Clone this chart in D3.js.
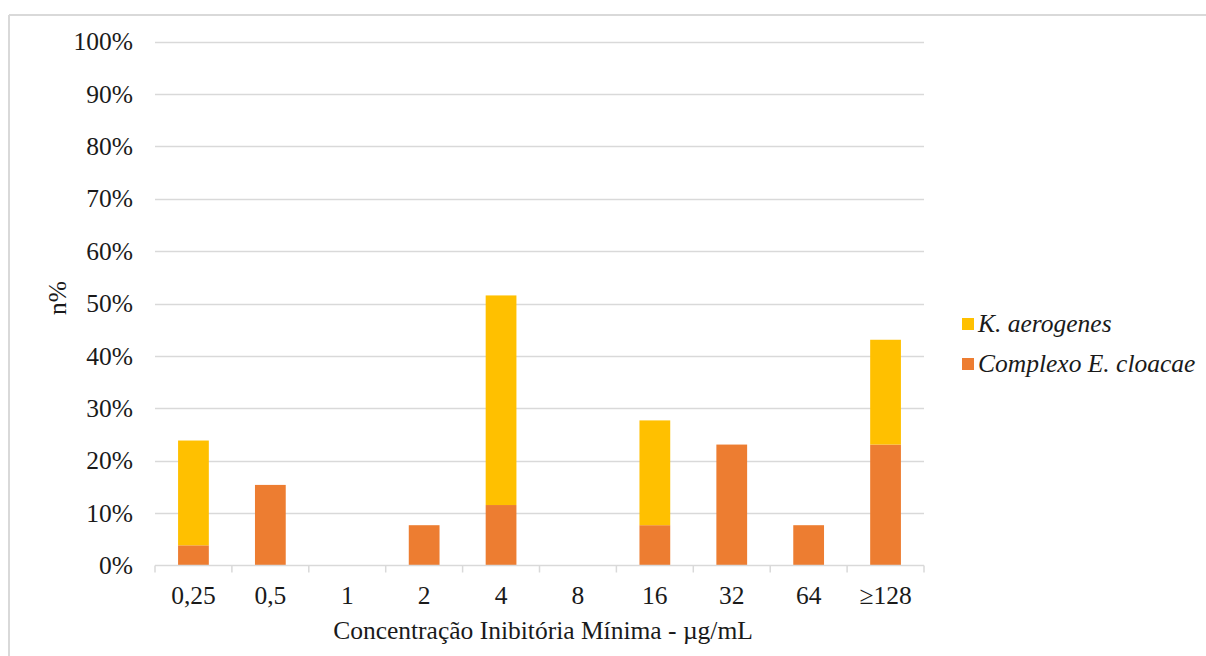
<!DOCTYPE html>
<html>
<head>
<meta charset="utf-8">
<script src="https://cdn.jsdelivr.net/npm/d3@7/dist/d3.min.js"></script>
<style>
  html, body { margin: 0; padding: 0; background: #fff; }
  svg { display: block; }
</style>
</head>
<body>
<svg id="chart" width="1206" height="656"></svg>
<script>
const categories = ["0,25", "0,5", "1", "2", "4", "8", "16", "32", "64", "≥128"];
const seriesNames = ["Complexo E. cloacae", "K. aerogenes"];
const cloacae = [3.85, 15.38, 0, 7.69, 11.54, 0, 7.69, 23.08, 7.69, 23.08];
const aerogenes = [20, 0, 0, 0, 40, 0, 20, 0, 0, 20];
const yTicks = [0, 10, 20, 30, 40, 50, 60, 70, 80, 90, 100];
const colors = { "Complexo E. cloacae": "#ED7D31", "K. aerogenes": "#FFC000" };

const FONT = "'Liberation Serif', 'Times New Roman', serif";
const FS = 25.5;
const TXT = "#1a1a1a";

const svg = d3.select("#chart").attr("font-family", FONT);

// outer frame (top & left visible)
svg.append("line").attr("x1", 9).attr("x2", 1206).attr("y1", 15).attr("y2", 15)
  .attr("stroke", "#d9d9d9").attr("stroke-width", 2);
svg.append("line").attr("x1", 9).attr("x2", 9).attr("y1", 15).attr("y2", 656)
  .attr("stroke", "#d9d9d9").attr("stroke-width", 2);

const pLeft = 155, pRight = 924, pTop = 41.5, pBottom = 565.5;
const x = d3.scaleBand().domain(categories).range([pLeft, pRight]).paddingInner(0.6).paddingOuter(0.3);
const y = d3.scaleLinear().domain([0, 100]).range([pBottom, pTop]);

// gridlines
svg.append("g").selectAll("line").data(yTicks.filter(d => d > 0)).join("line")
  .attr("x1", pLeft).attr("x2", pRight)
  .attr("y1", d => Math.round(y(d)) + 0.5).attr("y2", d => Math.round(y(d)) + 0.5)
  .attr("stroke", "#d9d9d9").attr("stroke-width", 1.5);

// stacked data
const rows = categories.map((c, i) => ({ cat: c, "Complexo E. cloacae": cloacae[i], "K. aerogenes": aerogenes[i] }));
const stack = d3.stack().keys(seriesNames)(rows);

svg.append("g").selectAll("g").data(stack).join("g")
  .attr("fill", d => colors[d.key])
  .selectAll("rect").data(d => d).join("rect")
  .attr("x", d => x(d.data.cat))
  .attr("width", x.bandwidth())
  .attr("y", d => y(d[1]))
  .attr("height", d => y(d[0]) - y(d[1]));

// x axis
const xAxis = svg.append("g").attr("transform", `translate(0,${pBottom})`);
xAxis.append("line").attr("x1", pLeft).attr("x2", pRight).attr("y1", 0).attr("y2", 0)
  .attr("stroke", "#d9d9d9").attr("stroke-width", 1.5);
const step = (pRight - pLeft) / categories.length;
xAxis.selectAll("line.tick").data(d3.range(categories.length + 1)).join("line")
  .attr("class", "tick")
  .attr("x1", i => pLeft + i * step).attr("x2", i => pLeft + i * step)
  .attr("y1", 0).attr("y2", 7)
  .attr("stroke", "#d9d9d9").attr("stroke-width", 1.5);
xAxis.selectAll("text").data(categories).join("text")
  .attr("x", d => x(d) + x.bandwidth() / 2)
  .attr("y", 38)
  .attr("text-anchor", "middle")
  .attr("font-family", FONT).attr("font-size", FS).attr("fill", TXT)
  .text(d => d);

// y axis labels
const yAxis = d3.axisLeft(y).tickValues(yTicks).tickFormat(d => d + "%").tickSize(0).tickPadding(22);
const yg = svg.append("g").attr("transform", `translate(${pLeft},0)`).call(yAxis);
yg.attr("font-family", FONT).attr("font-size", FS);
yg.select(".domain").remove();
yg.selectAll("text").attr("font-family", FONT).attr("font-size", FS).attr("fill", TXT);

// axis titles
svg.append("text").attr("x", 543).attr("y", 639).attr("text-anchor", "middle")
  .attr("font-family", FONT).attr("font-size", FS).attr("fill", TXT)
  .text("Concentração Inibitória Mínima - µg/mL");
svg.append("text").attr("transform", "translate(66,298) rotate(-90)")
  .attr("text-anchor", "middle")
  .attr("font-family", FONT).attr("font-size", FS).attr("fill", TXT)
  .text("n%");

// legend
const legendItems = ["K. aerogenes", "Complexo E. cloacae"];
const lg = svg.append("g").selectAll("g").data(legendItems).join("g")
  .attr("transform", (d, i) => `translate(962,${318 + i * 40})`);
lg.append("rect").attr("width", 12).attr("height", 12).attr("fill", d => colors[d]);
lg.append("text").attr("x", 16).attr("y", 14)
  .attr("font-family", FONT).attr("font-size", FS).attr("fill", TXT)
  .attr("font-style", "italic").text(d => d);
</script>
</body>
</html>
